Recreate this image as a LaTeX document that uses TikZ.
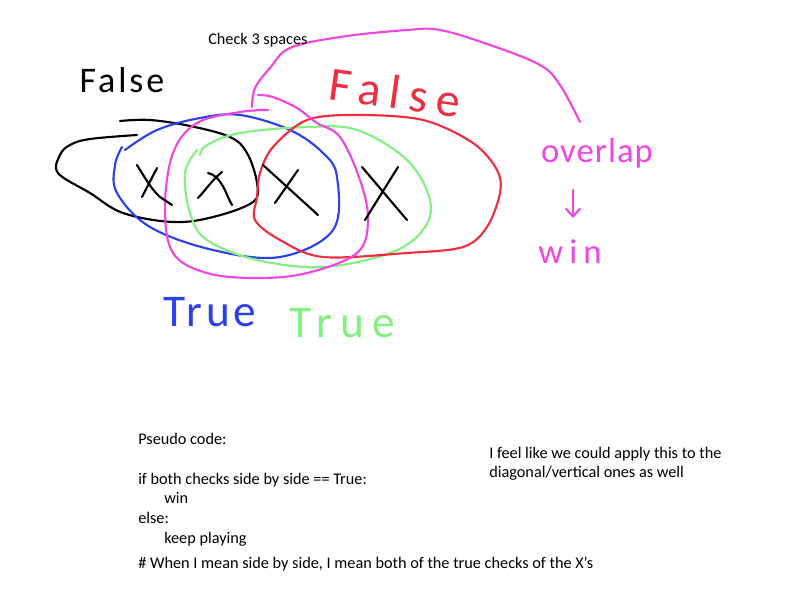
\documentclass[tikz,border=0pt]{standalone}
\usepackage{fontspec}
\setmainfont{Carlito}
\usetikzlibrary{arrows.meta}
\definecolor{hblue}{RGB}{45,65,235}
\definecolor{hred}{RGB}{240,45,65}
\definecolor{hgreen}{RGB}{130,240,130}
\definecolor{hmag}{RGB}{240,70,225}
\tikzset{
  stroke/.style={line width=1.6pt, line cap=round, line join=round},
  ptext/.style={anchor=base west, inner sep=0pt, font=\fontsize{12.2}{14}\selectfont},
  hand/.style n args={2}{inner sep=0pt, font=\fontsize{#1}{#1}\selectfont\addfontfeature{LetterSpace=#2}},
}
\begin{document}
\begin{tikzpicture}[x=0.75pt,y=-0.75pt]
\useasboundingbox (0,0) rectangle (800,600);
% black ellipse
\draw[stroke,black] plot[smooth,tension=0.6] coordinates {(120,121) (150,120) (190,126) (230,137) (247,153) (257,183) (253,202) (213,217) (173,222) (123,213) (90,193) (58,173) (60,155) (70,145) (90,139) (137,135)};
% blue
\draw[stroke,hblue] plot[smooth,tension=0.6] coordinates {(122,147) (115,165) (117,193) (150,227) (213,250) (280,257) (333,230) (337,177) (323,153) (290,130) (240,115) (200,118) (157,130) (125,150)};
% green
\draw[stroke,hgreen] plot[smooth,tension=0.6] coordinates {(200,155) (207,145) (240,133) (307,127) (357,130) (407,160) (430,200) (423,230) (390,253) (323,267) (257,260) (207,240) (190,213) (185,173) (197,150)};
% red
\draw[stroke,hred] plot[smooth cycle,tension=0.55] coordinates {(260,173) (273,147) (307,120) (357,115) (423,120) (473,143) (497,170) (500,193) (487,227) (463,247) (407,253) (323,257) (280,240) (255,220) (257,197)};
% magenta loop
\draw[stroke,hmag] plot[smooth,tension=0.6] coordinates {(268,110) (240,112) (197,123) (173,153) (165,207) (173,253) (207,273) (257,278) (307,273) (357,253) (368,220) (360,180) (340,137) (317,123) (297,108) (273,97) (258,95)};
% magenta arc
\draw[stroke,hmag] plot[smooth,tension=0.6] coordinates {(252,107) (255,88) (270,68) (290,48) (340,37) (407,30) (440,30) (490,45) (540,65) (560,85) (580,122)};
% X marks
\draw[stroke,black] (137,165) .. controls (145,178) and (152,190) .. (160,197) -- (172,205);
\draw[stroke,black] (157,168) -- (142,197);
\draw[stroke,black] (208,173) .. controls (222,176) and (226,195) .. (232,205);
\draw[stroke,black] (222,172) .. controls (212,180) and (204,192) .. (198,198);
\draw[stroke,black] (263,165) -- (318,215);
\draw[stroke,black] (298,170) -- (275,203);
\draw[stroke,black] (362,167) -- (407,220);
\draw[stroke,black] (398,167) -- (365,220);
% handwritten labels
\node[hand={27}{8},black] (f1) at (122,80) {False};
\node[hand={36}{18},hred,rotate=-8] (f2) at (395,92) {False};
\node[hand={34}{8},hblue] (t1) at (210,312) {True};
\node[hand={34}{18},hgreen] (t2) at (342,323) {True};
\node[hand={26}{3},hmag] (ov) at (597,153) {overlap};
\node[hand={26}{18},hmag] (wn) at (570,252) {win};
\draw[stroke,hmag,-{Straight Barb[length=6pt,width=11pt]}] (573,190) -- (573,218);
% printed text
\node[ptext] (c3) at (208,44) {Check 3 spaces};
\node[ptext] (p0) at (138,444) {Pseudo code:};
\node[ptext] (p1) at (138,484) {if both checks side by side == True:};
\node[ptext] (p2) at (164,503) {win};
\node[ptext] (p3) at (138,523) {else:};
\node[ptext] (p4) at (164,543) {keep playing};
\node[ptext] (p5) at (138,568) {\# When I mean side by side, I mean both of the true checks of the X's};
\node[ptext] (n1) at (489,458) {I feel like we could apply this to the};
\node[ptext] (n2) at (489,477) {diagonal/vertical ones as well};
\end{tikzpicture}
\end{document}
